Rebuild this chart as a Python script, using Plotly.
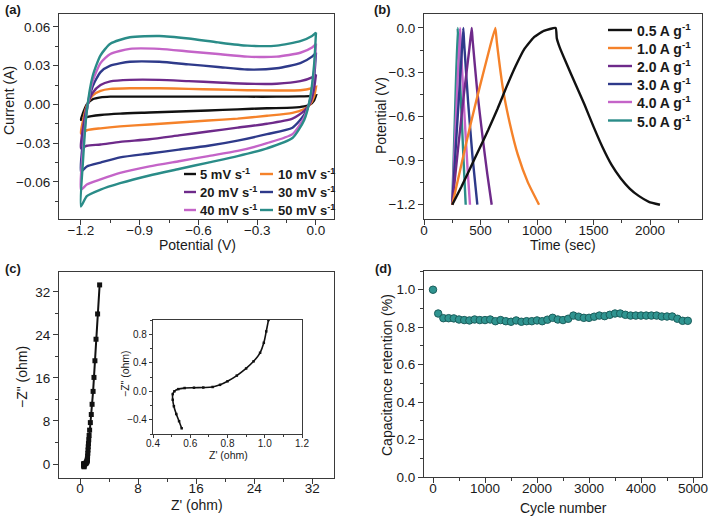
"""Supercapacitor electrode: CV, GCD, EIS and cycling panels."""

import plotly.graph_objects as go

FONT = "Arial, 'Liberation Sans', Helvetica, sans-serif"
AXIS_COLOR = "#3a3a3a"
TEXT_COLOR = "#1a1a1a"

# ---------------- (a) cyclic voltammetry ----------------
cv_potential_up = [-1.2, -1.19, -1.17, -1.14, -1.1, -1.05, -0.95, -0.8, -0.65, -0.5, -0.35, -0.2, -0.08, -0.02, 0.0]
cv_potential_down = [0.0, -0.01, -0.03, -0.06, -0.12, -0.25, -0.4, -0.55, -0.7, -0.85, -1.0, -1.1, -1.17, -1.2]

cv_5_up = [-0.012, -0.007, 0.0, 0.004, 0.0055, 0.006, 0.006, 0.006, 0.006, 0.006, 0.006, 0.006, 0.0062, 0.0066, 0.007]
cv_5_down = [0.007, 0.003, 0.0, -0.0015, -0.0025, -0.003, -0.0038, -0.0047, -0.0055, -0.0063, -0.0071, -0.0082, -0.0098, -0.012]
cv_10_up = [-0.0225, -0.013, -0.001, 0.007, 0.0105, 0.012, 0.0125, 0.0125, 0.012, 0.0115, 0.011, 0.0108, 0.011, 0.0125, 0.0135]
cv_10_down = [0.0135, 0.006, 0.0, -0.0035, -0.0065, -0.0088, -0.011, -0.0125, -0.014, -0.0155, -0.017, -0.0185, -0.020, -0.0225]
cv_20_up = [-0.034, -0.019, -0.002, 0.009, 0.015, 0.0178, 0.019, 0.019, 0.018, 0.017, 0.016, 0.016, 0.018, 0.021, 0.023]
cv_20_down = [0.023, 0.012, 0.001, -0.005, -0.011, -0.015, -0.018, -0.021, -0.024, -0.027, -0.029, -0.031, -0.032, -0.034]
cv_30_up = [-0.052, -0.029, -0.004, 0.014, 0.025, 0.030, 0.033, 0.033, 0.031, 0.029, 0.027, 0.028, 0.032, 0.037, 0.040]
cv_30_down = [0.040, 0.020, 0.003, -0.008, -0.018, -0.023, -0.028, -0.032, -0.035, -0.038, -0.041, -0.045, -0.048, -0.052]
cv_40_up = [-0.066, -0.036, -0.005, 0.018, 0.032, 0.039, 0.043, 0.043, 0.041, 0.039, 0.037, 0.037, 0.040, 0.044, 0.047]
cv_40_down = [0.047, 0.025, 0.004, -0.010, -0.023, -0.030, -0.036, -0.040, -0.044, -0.048, -0.053, -0.058, -0.062, -0.066]
cv_50_up = [-0.079, -0.045, -0.005, 0.022, 0.038, 0.047, 0.052, 0.053, 0.051, 0.048, 0.0455, 0.0455, 0.049, 0.053, 0.0555]
cv_50_down = [0.0555, 0.030, 0.005, -0.012, -0.026, -0.034, -0.040, -0.045, -0.050, -0.055, -0.061, -0.066, -0.071, -0.079]

cv_labels = ["5 mV s<sup>-1</sup>", "10 mV s<sup>-1</sup>", "20 mV s<sup>-1</sup>",
             "30 mV s<sup>-1</sup>", "40 mV s<sup>-1</sup>", "50 mV s<sup>-1</sup>"]

# ---------------- (b) galvanostatic charge/discharge ----------------
gcd_05_t = [250, 330, 410, 490, 570, 650, 730, 810, 890, 970, 1060, 1165,
            1175, 1200, 1260, 1340, 1420, 1500, 1580, 1660, 1740, 1820, 1900, 1990, 2088]
gcd_05_v = [-1.2, -1.08, -0.95, -0.82, -0.69, -0.55, -0.40, -0.26, -0.14, -0.065, -0.02, 0.0,
            -0.07, -0.13, -0.24, -0.38, -0.52, -0.67, -0.81, -0.93, -1.02, -1.09, -1.14, -1.18, -1.2]
gcd_10_t = [250, 330, 410, 490, 570, 631, 645, 700, 760, 830, 920, 1018]
gcd_10_v = [-1.2, -0.93, -0.66, -0.41, -0.17, 0.0, -0.10, -0.42, -0.65, -0.86, -1.05, -1.2]
gcd_20_t = [250, 300, 350, 400, 422, 430, 470, 520, 560, 599]
gcd_20_v = [-1.2, -0.83, -0.47, -0.15, 0.0, -0.08, -0.42, -0.75, -0.99, -1.2]
gcd_30_t = [250, 290, 330, 348, 355, 390, 430, 472]
gcd_30_v = [-1.2, -0.70, -0.22, 0.0, -0.10, -0.50, -0.88, -1.2]
gcd_40_t = [250, 285, 319, 325, 355, 385, 407]
gcd_40_v = [-1.2, -0.58, 0.0, -0.10, -0.55, -0.95, -1.2]
gcd_50_t = [250, 275, 298, 304, 330, 352, 369]
gcd_50_v = [-1.2, -0.57, 0.0, -0.10, -0.55, -0.93, -1.2]

gcd_labels = ["0.5 A g<sup>-1</sup>", "1.0 A g<sup>-1</sup>", "2.0 A g<sup>-1</sup>",
              "3.0 A g<sup>-1</sup>", "4.0 A g<sup>-1</sup>", "5.0 A g<sup>-1</sup>"]

# ---------------- (c) Nyquist plot ----------------
eis_hf_zre = [0.554, 0.54, 0.525, 0.512, 0.506, 0.506, 0.515, 0.536, 0.57, 0.62, 0.67, 0.72,
              0.76, 0.80, 0.85, 0.90, 0.94, 0.975, 0.995, 1.008, 1.02]
eis_hf_zim = [-0.52, -0.42, -0.32, -0.21, -0.12, -0.04, 0.0, 0.03, 0.045, 0.05, 0.052, 0.06,
              0.09, 0.14, 0.22, 0.32, 0.42, 0.54, 0.68, 0.84, 1.0]
eis_lf_zre = [1.04, 1.07, 1.1, 1.13, 1.16, 1.2, 1.25, 1.32, 1.42, 1.55, 1.66, 1.8, 1.92, 2.05, 2.2, 2.42, 2.7]
eis_lf_zim = [1.5, 2.0, 2.6, 3.2, 3.8, 4.5, 5.3, 6.3, 7.7, 9.2, 11.1, 13.5, 16.1, 19.2, 23.2, 27.9, 33.3]

# ---------------- (d) cycling stability ----------------
cycle_number = list(range(0, 5000, 100))
retention = [1.0, 0.873, 0.848, 0.848, 0.847, 0.841, 0.838, 0.836, 0.841, 0.838,
             0.838, 0.841, 0.832, 0.838, 0.832, 0.829, 0.836, 0.829, 0.832, 0.832,
             0.836, 0.832, 0.840, 0.850, 0.841, 0.838, 0.845, 0.862, 0.856, 0.850,
             0.850, 0.856, 0.862, 0.859, 0.866, 0.873, 0.873, 0.866, 0.862, 0.862,
             0.862, 0.862, 0.862, 0.862, 0.857, 0.857, 0.857, 0.845, 0.834, 0.834]

COLORS = ["#111111", "#f5822a", "#6e2a8a", "#2e3a8a", "#c464c8", "#2a8c88"]
TEAL_FILL = "#2f9490"
TEAL_EDGE = "#1b5e5c"


def axis(domain, rng, anchor, dtick=None, tick0=None, minor_dtick=None, size=13.5, **kw):
    d = dict(
        domain=domain, range=rng, anchor=anchor, automargin=False,
        showline=True, linecolor=AXIS_COLOR, linewidth=1.2, mirror=True,
        ticks="outside", ticklen=5, tickwidth=1, tickcolor=AXIS_COLOR,
        showgrid=False, zeroline=False,
        tickfont=dict(size=size, color=TEXT_COLOR, family=FONT),
        minor=dict(ticks="outside", ticklen=3, tickwidth=1, tickcolor=AXIS_COLOR,
                   showgrid=False, dtick=minor_dtick),
    )
    if dtick is not None:
        d["dtick"] = dtick
    if tick0 is not None:
        d["tick0"] = tick0
    d.update(kw)
    return d


W, H = 709, 519


def px(x):
    return x / W


def py(y):
    return 1 - y / H


fig = go.Figure()

# (a)
cv_up = [cv_5_up, cv_10_up, cv_20_up, cv_30_up, cv_40_up, cv_50_up]
cv_down = [cv_5_down, cv_10_down, cv_20_down, cv_30_down, cv_40_down, cv_50_down]
for i in range(6):
    fig.add_trace(go.Scatter(
        x=cv_potential_up + cv_potential_down, y=cv_up[i] + cv_down[i],
        mode="lines", line=dict(color=COLORS[i], width=2.4, shape="spline", smoothing=0.6),
        showlegend=False, xaxis="x", yaxis="y",
    ))

# (b)
gcd_t = [gcd_05_t, gcd_10_t, gcd_20_t, gcd_30_t, gcd_40_t, gcd_50_t]
gcd_v = [gcd_05_v, gcd_10_v, gcd_20_v, gcd_30_v, gcd_40_v, gcd_50_v]
for i in range(5, -1, -1):
    fig.add_trace(go.Scatter(
        x=gcd_t[i], y=gcd_v[i], name=gcd_labels[i],
        mode="lines", line=dict(color=COLORS[i], width=2.4, shape="spline", smoothing=0.4),
        showlegend=False, xaxis="x2", yaxis="y2",
    ))

# (c)
fig.add_trace(go.Scatter(
    x=eis_hf_zre + eis_lf_zre, y=eis_hf_zim + eis_lf_zim,
    mode="lines+markers", line=dict(color="#111111", width=2),
    marker=dict(symbol="square", size=5, color="#111111"),
    showlegend=False, xaxis="x3", yaxis="y3",
))
fig.add_trace(go.Scatter(
    x=eis_hf_zre, y=eis_hf_zim,
    mode="lines+markers", line=dict(color="#111111", width=1.6, shape="spline"),
    marker=dict(symbol="square", size=2.5, color="#111111"),
    showlegend=False, xaxis="x5", yaxis="y5",
))

# (d)
fig.add_trace(go.Scatter(
    x=cycle_number, y=retention, mode="markers",
    marker=dict(symbol="circle", size=7.5, color=TEAL_FILL, line=dict(color=TEAL_EDGE, width=1)),
    showlegend=False, xaxis="x4", yaxis="y4",
))

dom_left = [px(59), px(334)]
dom_right = [px(424), px(702)]
dom_top = [py(219), py(14)]

fig.update_layout(
    width=W, height=H, autosize=False,
    margin=dict(l=0, r=0, t=0, b=0, autoexpand=False),
    paper_bgcolor="white", plot_bgcolor="white",
    font=dict(family=FONT, color=TEXT_COLOR, size=13),
    showlegend=False,
    xaxis=axis(dom_left, [-1.312, 0.092], "y", dtick=0.3, tick0=-1.2, minor_dtick=0.15,
               tickformat=".1f", ticklabelstandoff=-6),
    yaxis=axis(dom_top, [-0.0887, 0.070], "x", dtick=0.03, tick0=0, minor_dtick=0.015, tickformat=".2f"),
    xaxis2=axis(dom_right, [0, 2460], "y2", tickvals=[0, 500, 1000, 1500, 2000], minor_dtick=250,
                ticklabelstandoff=-6),
    yaxis2=axis(dom_top, [-1.297, 0.095], "x2", dtick=0.3, tick0=0, minor_dtick=0.15, tickformat=".1f"),
    xaxis3=axis(dom_left, [-2.9, 35.0], "y3", dtick=8, tick0=0, minor_dtick=4, ticklabelstandoff=-7),
    yaxis3=axis([py(478), py(272)], [-2.6, 35.7], "x3", dtick=8, tick0=0, minor_dtick=4),
    xaxis4=axis(dom_right, [-173, 5173], "y4", dtick=1000, tick0=0, minor_dtick=500, ticklabelstandoff=-6),
    yaxis4=axis([py(477), py(271)], [0, 1.1], "x4", dtick=0.2, tick0=0, minor_dtick=0.1, tickformat=".1f"),
    xaxis5=axis([px(153), px(302)], [0.4, 1.2], "y5", dtick=0.2, tick0=0.4, minor_dtick=0.1,
                size=10, ticklen=3, tickformat=".1f", minor_ticklen=2, ticklabelstandoff=-3),
    yaxis5=axis([py(434), py(320)], [-0.6, 1.0], "x5", dtick=0.4, tick0=0, minor_dtick=0.2,
                size=10, ticklen=3, tickformat=".1f", minor_ticklen=2),
)

annotations = []
shapes = []


def text(x, y, s, size=14, angle=0, bold=False, xanchor="center"):
    annotations.append(dict(
        x=px(x), y=py(y), xref="paper", yref="paper", text=("<b>%s</b>" % s) if bold else s,
        showarrow=False, textangle=angle, xanchor=xanchor, yanchor="middle",
        font=dict(size=size, family=FONT, color=TEXT_COLOR),
    ))


def legend_item(x0, x1, xt, y, color, label, size):
    shapes.append(dict(type="line", xref="paper", yref="paper",
                       x0=px(x0), x1=px(x1), y0=py(y), y1=py(y),
                       line=dict(color=color, width=2.4)))
    text(xt, y, label, size=size, bold=True, xanchor="left")


# panel labels
text(3, 10, "(a)", size=13, bold=True, xanchor="left")
text(372, 10, "(b)", size=13, bold=True, xanchor="left")
text(3, 269, "(c)", size=13, bold=True, xanchor="left")
text(373, 268, "(d)", size=13, bold=True, xanchor="left")

# axis titles
text(9, 101, "Current (A)", angle=-90)
text(197, 245, "Potential (V)")
text(381, 116, "Potential (V)", angle=-90)
text(563, 245, "Time (sec)")
text(22, 377, "\u2212Z\" (ohm)", angle=-90)
text(197, 505, "Z' (ohm)")
text(387, 375, "Capacitance retention (%)", angle=-90)
text(563, 508, "Cycle number")
text(228, 455, "Z' (ohm)", size=10.5)
text(125, 374, "\u2212Z\" (ohm)", size=10.5, angle=-90)

# (a) legend, two columns
cv_rows = [174, 192, 210]
cv_cols = [(184, 196, 198), (260, 273, 276)]
for i, lab in enumerate(cv_labels):
    r, c = divmod(i, 2)
    x0, x1, xt = cv_cols[c]
    legend_item(x0, x1, xt, cv_rows[r], COLORS[i], lab, 13)

# (b) legend, one column
gcd_rows = [30, 48, 66, 84, 102, 120.5]
for i, lab in enumerate(gcd_labels):
    legend_item(608, 632, 635, gcd_rows[i], COLORS[i], lab, 14)

fig.update_layout(annotations=annotations, shapes=shapes)

fig.write_html("out.html", config={"displayModeBar": False},
               post_script="document.body.style.margin='0';")
